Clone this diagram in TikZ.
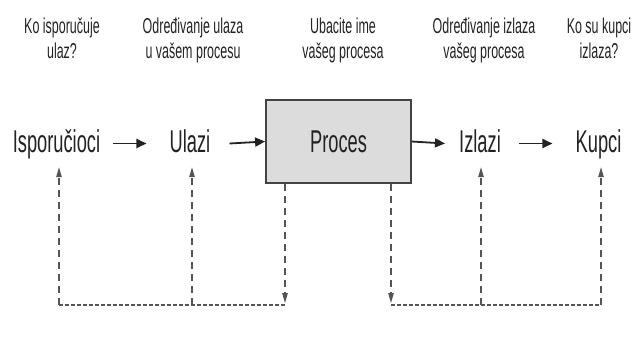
\documentclass[tikz,border=0pt]{standalone}
\usepackage{fontspec}
\setmainfont[FakeStretch=0.58]{Liberation Sans}
\usetikzlibrary{arrows.meta}
\definecolor{txt}{HTML}{222222}
\definecolor{dash}{HTML}{555555}
\definecolor{boxfill}{HTML}{DCDCDC}
\tikzset{
  head/.style={align=center,inner sep=0pt,font=\fontsize{21.5}{25}\selectfont,text=txt,anchor=base},
  main/.style={inner sep=0pt,font=\fontsize{31.5}{36}\selectfont,text=txt,anchor=base,text height=23pt,text depth=6pt},
  procbox/.style={draw=txt!85,line width=1.8pt,fill=boxfill,minimum width=145pt,minimum height=83pt,inner sep=0pt,font=\fontsize{31.5}{36}\selectfont,text=txt},
  solidarr/.style={draw=txt,line width=1.8pt,-{Triangle[length=10pt,width=9pt]}},
  vdash/.style={draw=dash,line width=1.1pt,dash pattern=on 7pt off 5pt,-{Triangle[length=10pt,width=5.5pt]}},
  hdash/.style={draw=dash,line width=1.8pt,dash pattern=on 4pt off 2pt}
}
\begin{document}
\begin{tikzpicture}[x=1pt,y=-1pt]
\useasboundingbox (0,0) rectangle (636,338);
% headers (base = baseline of last line)
\node[head] (h1) at (62,58) {Ko isporučuje\\ulaz?};
\node[head] (h2) at (193,58) {Određivanje ulaza\\u vašem procesu};
\node[head] (h3) at (343,58) {Ubacite ime\\vašeg procesa};
\node[head] (h4) at (484,58) {Određivanje izlaza\\vašeg procesa};
\node[head] (h5) at (599,58) {Ko su kupci\\izlaza?};
% main row
\node[main] (isp) at (56.5,152) {Isporučioci};
\node[main] (ulazi) at (190,152) {Ulazi};
\node[procbox] (proces) at (338.5,141.5) {Proces};
\node[main] (izlazi) at (480,152) {Izlazi};
\node[main] (kupci) at (598.5,152) {Kupci};
% solid arrows
\draw[solidarr] ([xshift=13pt]isp.east) -- ([xshift=-23pt]ulazi.west);
\draw[solidarr] ([xshift=19pt]ulazi.east) -- (proces.west);
\draw[solidarr] (proces.east) -- ([xshift=-14pt]izlazi.west);
\draw[solidarr] ([xshift=18pt]izlazi.east) -- ([xshift=-23pt]kupci.west);
% feedback
\coordinate (b1) at (59,305);
\coordinate (b2) at (192,305);
\coordinate (c1) at (285,305);
\coordinate (c2) at (391,305);
\coordinate (b3) at (481,305);
\coordinate (b4) at (601,305);
\draw[vdash,shorten >=9pt] (b1) -- (b1 |- isp.south);
\draw[vdash,shorten >=9pt] (b2) -- (b2 |- ulazi.south);
\draw[vdash,shorten >=9pt] (b3) -- (b3 |- izlazi.south);
\draw[vdash,shorten >=9pt] (b4) -- (b4 |- kupci.south);
\draw[vdash,shorten >=2pt] (c1 |- proces.south) -- (c1);
\draw[vdash,shorten >=2pt] (c2 |- proces.south) -- (c2);
\draw[hdash] (b1) -- (c1);
\draw[hdash] (c2) -- (b4);
\end{tikzpicture}
\end{document}
